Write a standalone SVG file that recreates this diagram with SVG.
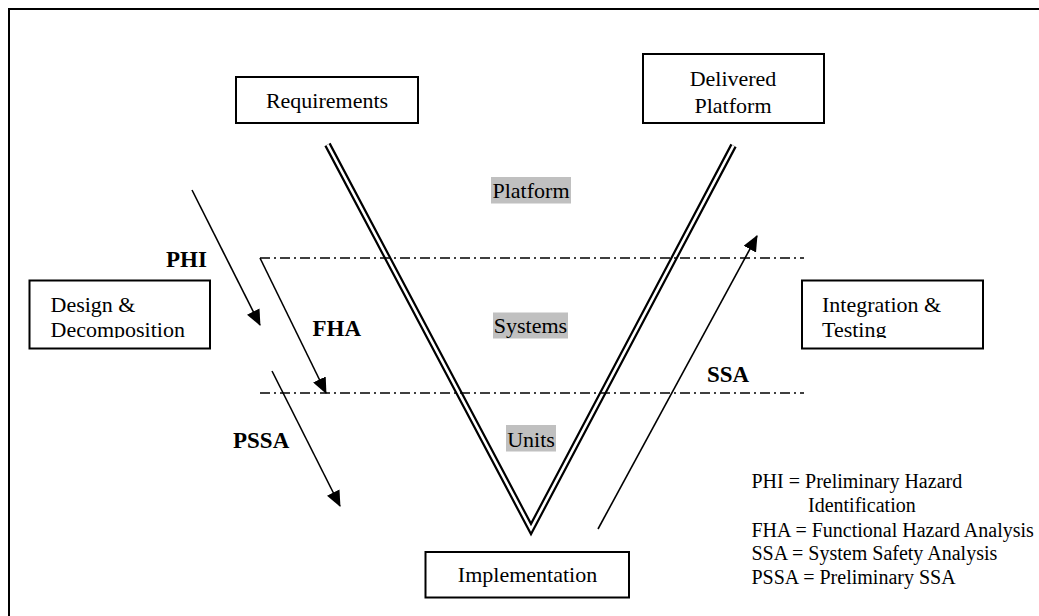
<svg xmlns="http://www.w3.org/2000/svg" width="1039" height="616" viewBox="0 0 1039 616">
<defs>
<style>
.box{fill:#fff;stroke:#000;stroke-width:2}
text{font-family:'Liberation Serif','Tinos','DejaVu Serif',serif;fill:#000}
.t{font-size:22px}
.b{font-size:23px;font-weight:bold}
.lg{font-size:20px}
.hl{fill:#c0c0c0}
.dash{stroke:#000;stroke-width:1.6;stroke-dasharray:10 4 2 4;fill:none}
.arr{stroke:#000;stroke-width:1.6;fill:none;marker-end:url(#ah)}
</style>
<marker id="ah" markerUnits="userSpaceOnUse" viewBox="0 0 16 14" refX="15" refY="7" markerWidth="16" markerHeight="14" orient="auto">
<path d="M0,0 L16,7 L0,14 Z" fill="#000"/>
</marker>
<clipPath id="clipIT"><rect x="802" y="281" width="181" height="57"/></clipPath>
<clipPath id="clipDD"><rect x="30" y="281" width="180" height="57"/></clipPath>
</defs>
<rect x="9" y="9" width="1040" height="620" fill="none" stroke="#000" stroke-width="2"/>

<g id="connectors">
<polyline points="327.5,144.5 531,529 733.5,145.5" fill="none" stroke="#000" stroke-width="7" stroke-linejoin="miter" stroke-miterlimit="20"/>
<polyline points="327.5,144.5 531,529 733.5,145.5" fill="none" stroke="#fff" stroke-width="2.6" stroke-linejoin="miter" stroke-miterlimit="20"/>
<line class="dash" x1="260" y1="258" x2="804" y2="258"/>
<line class="dash" x1="260" y1="393" x2="804" y2="393"/>
<line class="arr" x1="192" y1="190" x2="260" y2="325"/>
<line class="arr" x1="260" y1="258" x2="326" y2="393"/>
<line class="arr" x1="272" y1="371" x2="340" y2="506"/>
<line class="arr" x1="598" y1="529" x2="757" y2="236"/>
</g>

<g id="node-requirements">
<rect class="box" x="236" y="77" width="182" height="46"/>
<text class="t" x="327" y="108" text-anchor="middle" font-family="Liberation Serif, DejaVu Serif, serif">Requirements</text>
</g>
<g id="node-delivered">
<rect class="box" x="643" y="54" width="181" height="69"/>
<text class="t" x="733" y="86" text-anchor="middle">Delivered</text>
<text class="t" x="733" y="112.5" text-anchor="middle">Platform</text>
</g>
<g id="node-design">
<rect class="box" x="29.5" y="280.5" width="180.5" height="68"/>
<g clip-path="url(#clipDD)">
<text class="t" x="50.5" y="311.5">Design &amp;</text>
<text class="t" x="50.5" y="337">Decomposition</text>
</g>
</g>
<g id="node-integration">
<rect class="box" x="802" y="280.5" width="181" height="68"/>
<g clip-path="url(#clipIT)">
<text class="t" x="822" y="311.5">Integration &amp;</text>
<text class="t" x="822" y="336.5">Testing</text>
</g>
</g>
<g id="node-implementation">
<rect class="box" x="425.5" y="552" width="203.5" height="45.5"/>
<text class="t" x="527.5" y="581.5" text-anchor="middle">Implementation</text>
</g>

<g id="level-platform">
<rect class="hl" x="491" y="177" width="80" height="26.5"/>
<text class="t" x="531" y="197.5" text-anchor="middle">Platform</text>
</g>
<g id="level-systems">
<rect class="hl" x="493" y="312.5" width="75" height="26"/>
<text class="t" x="530.5" y="333" text-anchor="middle">Systems</text>
</g>
<g id="level-units">
<rect class="hl" x="506" y="425" width="50" height="26.5"/>
<text class="t" x="531" y="446.5" text-anchor="middle">Units</text>
</g>

<g id="labels">
<text class="b" x="166" y="266.5">PHI</text>
<text class="b" x="312.5" y="336">FHA</text>
<text class="b" x="707" y="381.5">SSA</text>
<text class="b" x="233" y="448">PSSA</text>
</g>

<g id="legend">
<text class="lg" x="751.5" y="488">PHI = Preliminary Hazard</text>
<text class="lg" x="808" y="511.5">Identification</text>
<text class="lg" x="751.5" y="536.5">FHA = Functional Hazard Analysis</text>
<text class="lg" x="751.5" y="560">SSA = System Safety Analysis</text>
<text class="lg" x="751.5" y="583.5">PSSA = Preliminary SSA</text>
</g>
</svg>
